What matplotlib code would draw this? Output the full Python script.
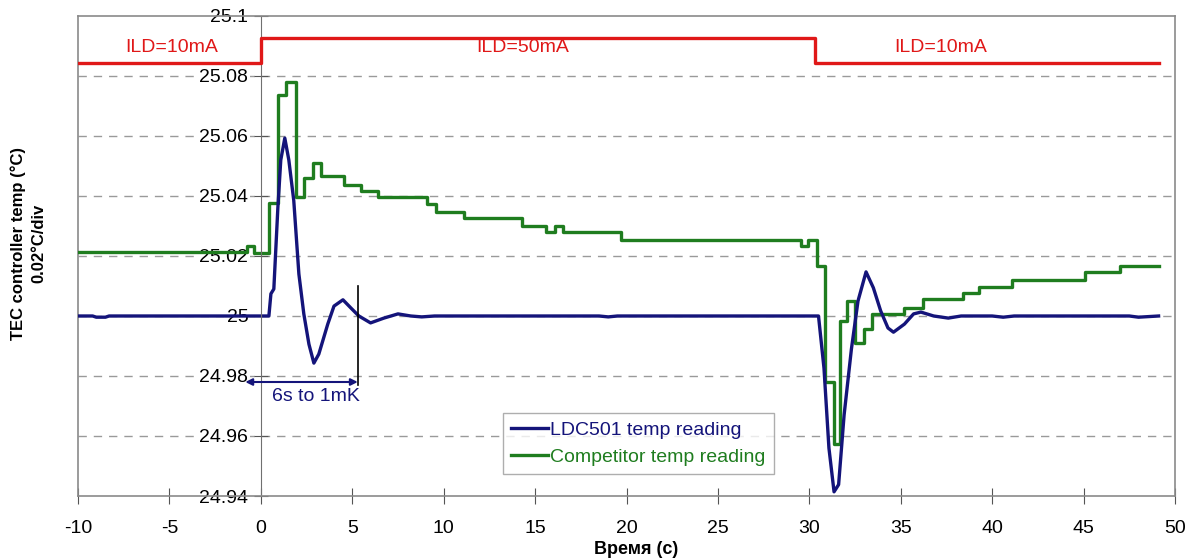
import numpy as np
import matplotlib
matplotlib.use("Agg")
import matplotlib.pyplot as plt

plt.rcParams['font.family'] = ['Liberation Sans', 'DejaVu Sans']
plt.rcParams['axes.unicode_minus'] = False

# ---- data ----
# LDC501 (blue) - time in s, temperature in degC
ldc_t = [-10, -9.2, -9.0, -8.5, -8.3, 0.44, 0.55, 0.71, 0.93, 1.09, 1.31, 1.53, 1.8,
         2.08, 2.35, 2.63, 2.9, 3.17, 3.66, 4.0, 4.49, 4.92, 5.36, 6.0, 6.73, 7.5,
         8.2, 8.8, 9.5, 12.0, 18.5, 19.0, 19.5, 30.5, 30.8, 31.07, 31.35, 31.6,
         31.9, 32.3, 32.66, 33.1, 33.5, 33.9, 34.3, 34.6, 35.2, 35.7, 36.1, 36.8,
         37.6, 38.3, 40.0, 40.6, 41.2, 47.5, 48.0, 49.1]
ldc_y = [25.0, 25.0, 24.9996, 24.9996, 25.0, 25.0, 25.0074, 25.009, 25.036, 25.052,
         25.0593, 25.052, 25.0385, 25.014, 25.0007, 24.9906, 24.9843, 24.9873,
         24.9973, 25.0033, 25.0054, 25.0027, 25.0, 24.9977, 24.9993, 25.0007,
         25.0, 24.9997, 25.0, 25.0, 25.0, 24.9997, 25.0, 25.0, 24.9826, 24.956,
         24.9414, 24.9438, 24.967, 24.989, 25.005, 25.0147, 25.0094, 25.0017,
         24.996, 24.9946, 24.9973, 25.0007, 25.0013, 25.0, 24.9993, 25.0, 25.0,
         24.9996, 25.0, 25.0, 24.9996, 25.0]

# Competitor (green) - stepped readings (value holds until next time)
comp_t = [-10, -0.75, -0.4, 0.45, 0.93, 1.37, 1.9, 2.35, 2.84, 3.28, 4.54, 5.47,
          6.4, 9.1, 9.6, 11.1, 14.3, 15.6, 16.1, 16.5, 19.7, 29.55, 29.95, 30.4,
          30.85, 31.35, 31.7, 32.05, 32.5, 33.0, 33.4, 35.2, 36.2, 38.4, 39.3,
          41.1, 45.1, 47.0, 49.1]
comp_y = [25.0214, 25.0234, 25.0211, 25.0375, 25.0736, 25.078, 25.0395, 25.046,
          25.0509, 25.0465, 25.0438, 25.0418, 25.0395, 25.0374, 25.0346, 25.0327,
          25.0301, 25.0279, 25.0301, 25.028, 25.0253, 25.0234, 25.0253, 25.0167,
          24.978, 24.9572, 24.9983, 25.005, 24.991, 24.9956, 25.0007, 25.0028,
          25.0056, 25.0078, 25.0097, 25.012, 25.0145, 25.0167, 25.0167]

# laser drive current trace (drawn on the temperature scale)
ild_t = [-10, 0, 30.3, 49.1]
ild_y = [25.0843, 25.0927, 25.0843, 25.0843]
ild_labels = ["ILD=10mA", "ILD=50mA", "ILD=10mA"]
ild_label_x = [-4.9, 14.3, 37.2]

x_ticks = [-10, -5, 0, 5, 10, 15, 20, 25, 30, 35, 40, 45, 50]
y_ticks = [24.94, 24.96, 24.98, 25.0, 25.02, 25.04, 25.06, 25.08, 25.1]
y_tick_labels = ["24.94", "24.96", "24.98", "25", "25.02", "25.04", "25.06", "25.08", "25.1"]

navy = "#14147a"
green = "#1f7d1f"
red = "#e01818"
frame = "#8a8a8a"

fig = plt.figure(figsize=(11.91, 5.59), dpi=100)
ax = fig.add_axes([0.0655, 0.1127, 0.9211, 0.8587])
ax.set_xlim(-10, 50)
ax.set_ylim(24.94, 25.1)

# grid
for yv in y_ticks[1:-1]:
    ax.axhline(yv, color="#9a9a9a", lw=1, ls=(0, (6, 5)), zorder=1)

ax.plot(ild_t, ild_y, drawstyle="steps-post", color=red, lw=2.4, zorder=3)
for lx, lt in zip(ild_label_x, ild_labels):
    ax.text(lx, 25.0895, lt, color=red, fontsize=14, ha="center", va="center")

l1, = ax.plot(ldc_t, ldc_y, color=navy, lw=2.4, label="LDC501 temp reading", zorder=2.2)
l2, = ax.plot(comp_t, comp_y, drawstyle="steps-post", color=green, lw=2.4,
              label="Competitor temp reading", zorder=2.1)

# settling annotation
ax.plot([5.3, 5.3], [24.977, 25.010], color="black", lw=1.2, zorder=2.3)
ax.annotate("", xy=(-0.85, 24.978), xytext=(5.3, 24.978),
            arrowprops=dict(arrowstyle="<|-|>", color=navy, lw=1.5,
                            mutation_scale=10, shrinkA=0, shrinkB=0))
ax.text(3.0, 24.9732, "6s to 1mK", color=navy, fontsize=14, ha="center", va="center")

# axes styling
for s in ["top", "right", "bottom"]:
    ax.spines[s].set_color(frame)
    ax.spines[s].set_linewidth(1.2)
ax.spines["left"].set_position(("data", 0))
ax.spines["left"].set_color("#707070")
ax.axvline(-10, color=frame, lw=1.2, clip_on=False)

ax.set_xticks(x_ticks)
ax.set_yticks(y_ticks)
ax.set_yticklabels(y_tick_labels)
ax.tick_params(axis="x", direction="inout", length=12, color="#555555", labelsize=14, pad=11)
ax.tick_params(axis="y", direction="inout", length=10, color="#555555", labelsize=14, pad=4)
for lbl in ax.get_yticklabels():
    lbl.set_bbox(dict(facecolor="white", edgecolor="none", pad=1.5))

leg = ax.legend(handles=[l1, l2], loc="lower left", bbox_to_anchor=(0.387, 0.045),
                fontsize=14, frameon=True, fancybox=False, handlelength=1.9,
                handletextpad=0.1, borderpad=0.45, labelspacing=0.45, borderaxespad=0)
leg.get_frame().set_edgecolor("#9a9a9a")
leg.get_frame().set_linewidth(1.0)
for txt, c in zip(leg.get_texts(), [navy, green]):
    txt.set_color(c)

fig.text(0.0151, 0.565, "TEC controller temp (°C)", rotation=90, fontsize=12,
         fontweight="bold", ha="center", va="center")
fig.text(0.0325, 0.565, "0.02°C/div", rotation=90, fontsize=12,
         fontweight="bold", ha="center", va="center")
fig.text(0.534, 1 - 549 / 559, "Время (с)", fontsize=13, fontweight="bold",
         ha="center", va="center")

fig.savefig("out.png", dpi=100)
